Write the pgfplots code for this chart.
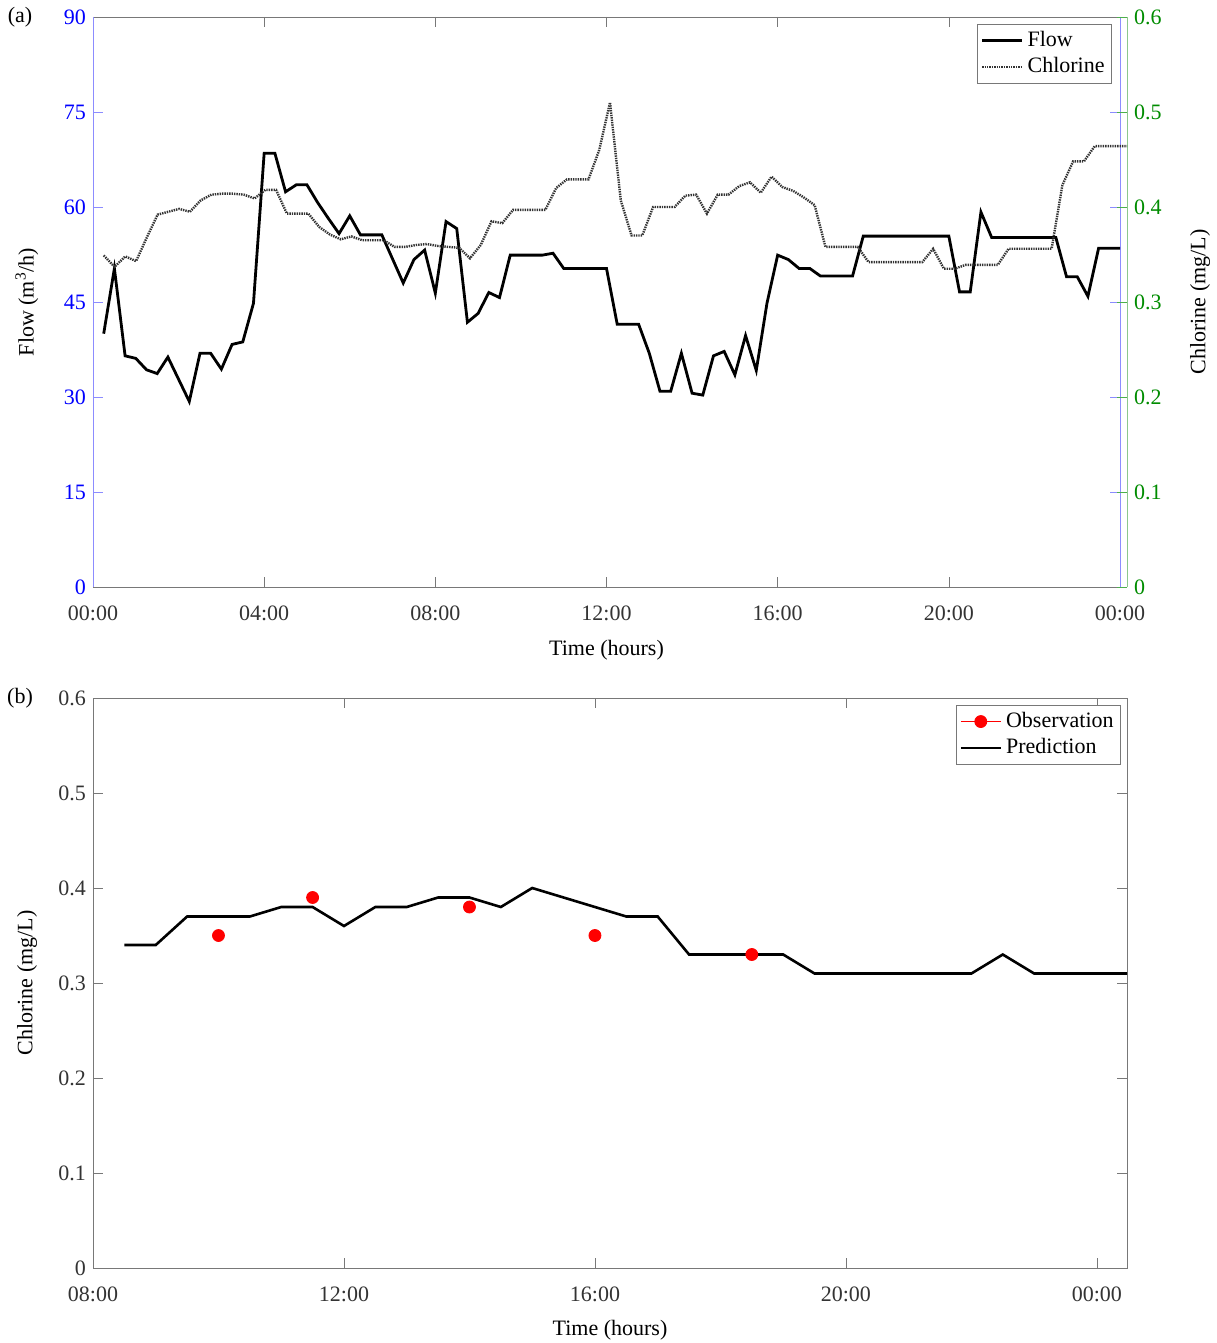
\documentclass[border=0pt]{standalone}
\usepackage{pgfplots}
\pgfplotsset{compat=1.18}
\usepackage{fontspec}
\setmainfont{Liberation Serif}
\definecolor{axblue}{RGB}{0,0,255}
\definecolor{axgreen}{RGB}{0,140,0}
\definecolor{lineblue}{RGB}{140,140,255}
\definecolor{linegreen}{RGB}{140,200,140}
\definecolor{boxgray}{RGB}{120,120,120}
\pgfplotsset{
  every axis/.append style={
    /pgf/number format/assume math mode=true,
    ticklabel style={font=\fontsize{11}{13}\selectfont},
    label style={font=\fontsize{11}{13}\selectfont},
    legend style={font=\fontsize{11}{13}\selectfont},
    major tick length=5pt,
    tick align=inside,
  },
  legend image code/.code={\draw[mark repeat=2,mark phase=2,#1] plot coordinates {(0pt,0pt) (10pt,0pt) (20pt,0pt)};},
}
\begin{document}
\begin{tikzpicture}
\path[use as bounding box] (0pt,0pt) rectangle (608pt,-671.5pt);
\node[font=\fontsize{11}{13}\selectfont] at (10pt,-8.5pt) {(a)};
\node[font=\fontsize{11}{13}\selectfont] at (10pt,-349pt) {(b)};
% ---------- (a) Flow ----------
\begin{axis}[
  at={(46.5pt,-8.5pt)}, anchor=north west,
  scale only axis, width=513.5pt, height=285pt,
  xmin=0, xmax=24, ymin=0, ymax=90,
  xtick={0,4,8,12,16,20,24},
  xticklabels={00:00,04:00,08:00,12:00,16:00,20:00,00:00},
  ytick={0,15,30,45,60,75,90},
  separate axis lines,
  x axis line style={boxgray},
  y axis line style={lineblue},
  xtick style={boxgray}, ytick style={lineblue},
  xtick pos=both, ytick pos=both, yticklabel pos=left, xticklabel pos=bottom,
  yticklabel style={text=axblue},
  xticklabel style={text=black!80, yshift=-6pt},
  xlabel={Time (hours)},
  ylabel={Flow (m\textsuperscript{3}/h)},
  xlabel style={at={(axis description cs:0.5,-0.1105)}, anchor=center},
  ylabel style={at={(axis description cs:-0.0643,0.5)}, anchor=center},
  legend style={at={(0.9922,0.9877)}, anchor=north east, draw=boxgray, fill=white, cells={anchor=west}, inner sep=1.5pt},
]
\addplot[black, line width=1.4pt] coordinates {
(0.25,40) (0.5,50.3) (0.75,36.5) (1,36.1) (1.25,34.3) (1.5,33.7) (1.75,36.3) (2,32.8)
(2.25,29.3) (2.5,36.9) (2.75,36.9) (3,34.4) (3.25,38.3) (3.5,38.7) (3.75,44.8) (4,68.5)
(4.25,68.5) (4.5,62.4) (4.75,63.5) (5,63.5) (5.25,60.7) (5.5,58.2) (5.75,55.8) (6,58.6)
(6.25,55.6) (6.5,55.6) (6.75,55.6) (7,51.8) (7.25,48) (7.5,51.7) (7.75,53.2) (8,46.4)
(8.25,57.7) (8.5,56.6) (8.75,41.8) (9,43.2) (9.25,46.5) (9.5,45.7) (9.75,52.4) (10,52.4)
(10.25,52.4) (10.5,52.4) (10.75,52.7) (11,50.3) (11.25,50.3) (11.5,50.3) (11.75,50.3) (12,50.3)
(12.25,41.5) (12.5,41.5) (12.75,41.5) (13,36.9) (13.25,30.9) (13.5,30.9) (13.75,36.9) (14,30.6)
(14.25,30.3) (14.5,36.5) (14.75,37.2) (15,33.5) (15.25,39.7) (15.5,34.2) (15.75,44.8) (16,52.4)
(16.25,51.7) (16.5,50.3) (16.75,50.3) (17,49.1) (17.25,49.1) (17.5,49.1) (17.75,49.1) (18,55.4)
(18.25,55.4) (18.5,55.4) (18.75,55.4) (19,55.4) (19.25,55.4) (19.5,55.4) (19.75,55.4) (20,55.4)
(20.25,46.6) (20.5,46.6) (20.75,59.2) (21,55.2) (21.25,55.2) (21.5,55.2) (21.75,55.2) (22,55.2)
(22.25,55.2) (22.5,55.2) (22.75,49.0) (23,49.0) (23.25,45.9) (23.5,53.5) (23.75,53.5) (24,53.5)
};
\addlegendentry{Flow}
\addlegendimage{black!80, line width=1.2pt, dash pattern=on 0.7pt off 0.5pt}
\addlegendentry{Chlorine}
\end{axis}
% ---------- (a) Chlorine ----------
\begin{axis}[
  at={(46.5pt,-8.5pt)}, anchor=north west,
  scale only axis, width=517pt, height=285pt,
  xmin=0, xmax=24, ymin=0, ymax=0.6,
  hide x axis,
  axis y line*=right,
  y axis line style={linegreen},
  ytick style={axgreen!70},
  ytick={0,0.1,0.2,0.3,0.4,0.5,0.6},
  yticklabel style={text=axgreen},
  ylabel={Chlorine (mg/L)},
  ylabel style={at={(axis description cs:1.0706,0.5)}, anchor=center},
]
\addplot[black!80, line width=1.2pt, dash pattern=on 0.7pt off 0.5pt] coordinates {
(0.25,0.349) (0.5,0.337) (0.75,0.348) (1,0.343) (1.25,0.368) (1.5,0.392) (1.75,0.395) (2,0.398)
(2.25,0.395) (2.5,0.407) (2.75,0.413) (3,0.414) (3.25,0.414) (3.5,0.413) (3.75,0.409) (4,0.418)
(4.25,0.418) (4.5,0.393) (4.75,0.393) (5,0.393) (5.25,0.379) (5.5,0.371) (5.75,0.366) (6,0.369)
(6.25,0.365) (6.5,0.365) (6.75,0.365) (7,0.358) (7.25,0.358) (7.5,0.360) (7.75,0.361) (8,0.359)
(8.25,0.358) (8.5,0.357) (8.75,0.346) (9,0.360) (9.25,0.385) (9.5,0.383) (9.75,0.397) (10,0.397)
(10.25,0.397) (10.5,0.397) (10.75,0.420) (11,0.429) (11.25,0.429) (11.5,0.429) (11.75,0.460) (12,0.510)
(12.25,0.407) (12.5,0.370) (12.75,0.370) (13,0.400) (13.25,0.400) (13.5,0.400) (13.75,0.412) (14,0.413)
(14.25,0.393) (14.5,0.413) (14.75,0.413) (15,0.422) (15.25,0.426) (15.5,0.415) (15.75,0.432) (16,0.421)
(16.25,0.417) (16.5,0.410) (16.75,0.402) (17,0.358) (17.25,0.358) (17.5,0.358) (17.75,0.358) (18,0.342)
(18.25,0.342) (18.5,0.342) (18.75,0.342) (19,0.342) (19.25,0.342) (19.5,0.356) (19.75,0.335) (20,0.335)
(20.25,0.339) (20.5,0.339) (20.75,0.339) (21,0.339) (21.25,0.356) (21.5,0.356) (21.75,0.356) (22,0.356)
(22.25,0.356) (22.5,0.423) (22.75,0.448) (23,0.448) (23.25,0.464) (23.5,0.464) (23.75,0.464) (24,0.464)
};
\end{axis}
% ---------- (b) ----------
\begin{axis}[
  at={(46.5pt,-349pt)}, anchor=north west,
  scale only axis, width=517pt, height=285pt,
  xmin=8, xmax=24.48, ymin=0, ymax=0.6,
  xtick={8,12,16,20,24},
  xticklabels={08:00,12:00,16:00,20:00,00:00},
  ytick={0,0.1,0.2,0.3,0.4,0.5,0.6},
  axis line style={boxgray}, tick style={boxgray},
  xticklabel style={text=black!80, yshift=-6pt},
  yticklabel style={text=black!80},
  xlabel={Time (hours)},
  ylabel={Chlorine (mg/L)},
  xlabel style={at={(axis description cs:0.5,-0.1088)}, anchor=center},
  ylabel style={at={(axis description cs:-0.0638,0.5)}, anchor=center},
  legend style={at={(0.9942,0.9877)}, anchor=north east, draw=boxgray, fill=white, cells={anchor=west}, inner sep=1.5pt},
]
\addlegendimage{red, thin, mark=*, mark size=3pt, mark options={solid, fill=red}}
\addlegendentry{Observation}
\addplot[black, line width=1.3pt] coordinates {
(8.5,0.34) (9,0.34) (9.5,0.37) (10,0.37) (10.5,0.37) (11,0.38) (11.5,0.38) (12,0.36)
(12.5,0.38) (13,0.38) (13.5,0.39) (14,0.39) (14.5,0.38) (15,0.40) (15.5,0.39) (16,0.38)
(16.5,0.37) (17,0.37) (17.5,0.33) (18,0.33) (18.5,0.33) (19,0.33) (19.5,0.31) (20,0.31)
(20.5,0.31) (21,0.31) (21.5,0.31) (22,0.31) (22.5,0.33) (23,0.31) (23.5,0.31) (24,0.31) (24.5,0.31)
};
\addlegendentry{Prediction}
\addplot[only marks, mark=*, red, mark size=3pt, forget plot] coordinates {
(10,0.35) (11.5,0.39) (14,0.38) (16,0.35) (18.5,0.33)
};
\end{axis}
\end{tikzpicture}
\end{document}
